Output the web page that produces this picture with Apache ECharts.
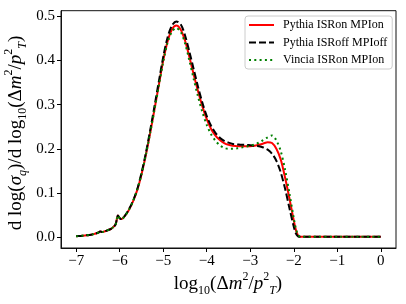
<!DOCTYPE html>
<html><head><meta charset="utf-8">
<script src="https://cdn.jsdelivr.net/npm/echarts@6/dist/echarts.min.js"></script>
<style>html,body{margin:0;padding:0;background:#fff}#c{width:406px;height:304px}</style>
</head><body><div id="c"></div>
<script>
const xs = [-7.0,-6.9,-6.8,-6.7,-6.6,-6.5,-6.45,-6.4,-6.3,-6.2,-6.1,-6.04,-6.0,-5.96,-5.9,-5.8,-5.7,-5.6,-5.5,-5.4,-5.3,-5.2,-5.1,-5.0,-4.9,-4.8,-4.7,-4.6,-4.5,-4.4,-4.3,-4.2,-4.1,-4.0,-3.9,-3.8,-3.7,-3.6,-3.5,-3.4,-3.3,-3.2,-3.1,-3.0,-2.9,-2.8,-2.7,-2.6,-2.5,-2.4,-2.3,-2.2,-2.1,-2.0,-1.95,-1.9,-1.85,-1.8,-1.5,-1.0,-0.5,0.0];
const lowPart = [0.002,0.003,0.004,0.005,0.007,0.010,0.013,0.012,0.015,0.019,0.028,0.049,0.043,0.041,0.046];
const redHigh = [0.060,0.080,0.106,0.142,0.186,0.236,0.290,0.345,0.400,0.443,0.470,0.479,0.470,0.445,0.408,0.368,0.330,0.296,0.267,0.245,0.230,0.220,0.213,0.209,0.207,0.206,0.206,0.206,0.206,0.207,0.209,0.212,0.215,0.213,0.200,0.176,0.135,0.088,0.038,0.016,0.004,0.001,0.001,0.001,0.001,0.001,0.001];
const blackHigh = [0.061,0.081,0.108,0.145,0.190,0.242,0.297,0.353,0.408,0.452,0.479,0.488,0.482,0.457,0.420,0.380,0.340,0.304,0.274,0.252,0.236,0.225,0.218,0.214,0.211,0.210,0.209,0.209,0.208,0.207,0.206,0.203,0.198,0.189,0.173,0.147,0.110,0.066,0.024,0.008,0.002,0.001,0.001,0.001,0.001,0.001,0.001];
const greenHigh = [0.060,0.080,0.106,0.142,0.186,0.236,0.289,0.343,0.397,0.440,0.465,0.473,0.465,0.439,0.400,0.358,0.318,0.283,0.254,0.233,0.218,0.208,0.202,0.200,0.200,0.201,0.203,0.205,0.207,0.210,0.214,0.220,0.226,0.230,0.219,0.195,0.153,0.100,0.043,0.019,0.005,0.001,0.001,0.001,0.001,0.001,0.001];
const seriesNames = ['Pythia ISRon MPIon','Pythia ISRoff MPIoff','Vincia ISRon MPIon'];
const xTicks = [-7,-6,-5,-4,-3,-2,-1,0];
const yTicks = [0,0.1,0.2,0.3,0.4,0.5];

const red = lowPart.concat(redHigh);
const black = lowPart.concat(blackHigh);
const green = lowPart.concat(greenHigh);
const pairs = arr => xs.map((x,i)=>[x,arr[i]]);
const FONT = 'Liberation Serif';
// matplotlib-style 5% margins
const xSpan = xTicks[xTicks.length-1]-xTicks[0];
const xMin = xTicks[0]-0.05*xSpan, xMax = xTicks[xTicks.length-1]+0.05*xSpan;
const yDataMax = Math.max(...red,...black,...green);
const yMin = -0.05*yDataMax, yMax = yDataMax*1.05;

const chart = echarts.init(document.getElementById('c'));
const fmtX = v => v < 0 ? '\u2212' + Math.abs(v) : String(v);
const rich = {
  n:{fontFamily:FONT,fontSize:19,lineHeight:26,color:'#000'},
  i:{fontFamily:FONT,fontSize:19,fontStyle:'italic',lineHeight:26,color:'#000'},
  sb:{fontFamily:FONT,fontSize:12,lineHeight:14,verticalAlign:'bottom',color:'#000'},
  sbi:{fontFamily:FONT,fontSize:12,fontStyle:'italic',lineHeight:14,verticalAlign:'bottom',color:'#000'},
  sp:{fontFamily:FONT,fontSize:12,lineHeight:15,verticalAlign:'top',color:'#000'}
};
chart.setOption({
  animation:false,
  backgroundColor:'#fff',
  grid:{left:61,right:10,top:10.7,bottom:56,show:true,borderColor:'#111',borderWidth:1,backgroundColor:'transparent'},
  xAxis:{type:'value',min:xMin,max:xMax,
     axisLine:{show:true,onZero:false,lineStyle:{color:'#111',width:1}},splitLine:{show:false},
     axisTick:{show:true,length:4,inside:false,customValues:xTicks,lineStyle:{color:'#000',width:1}},
     axisLabel:{customValues:xTicks,formatter:fmtX,fontFamily:FONT,fontSize:15,color:'#000',margin:6}},
  yAxis:{type:'value',min:yMin,max:yMax,
     axisLine:{show:true,onZero:false,lineStyle:{color:'#111',width:1}},splitLine:{show:false},
     axisTick:{show:true,length:4,inside:false,customValues:yTicks,lineStyle:{color:'#000',width:1}},
     axisLabel:{customValues:yTicks,formatter:v=>v.toFixed(1),fontFamily:FONT,fontSize:15,color:'#000',margin:6}},
  legend:{
    orient:'vertical',left:245,top:16,itemWidth:25,itemHeight:12,itemGap:5.5,
    padding:[3,5,3,3],backgroundColor:'rgba(255,255,255,0.8)',borderColor:'#ccc',borderWidth:1,borderRadius:3,
    itemStyle:{opacity:0,borderWidth:0},
    textStyle:{fontFamily:FONT,fontSize:12,color:'#000',padding:[0,0,0,4]},
    data:seriesNames
  },
  graphic:[
    {type:'text',x:16,y:133,rotation:Math.PI/2,style:{
      text:'{n|d log(}{i|σ}{sbi|q}{n|)/d log}{sb|10}{n|(Δ}{i|m}{sp|2}{n|/}{i|p}{sp|2}{sbi|T}{n|)}',
      rich:rich,align:'center',verticalAlign:'middle'}},
    {type:'text',x:228,y:284,style:{
      text:'{n|log}{sb|10}{n|(Δ}{i|m}{sp|2}{n|/}{i|p}{sp|2}{sbi|T}{n|)}',
      rich:rich,align:'center',verticalAlign:'middle'}}
  ],
  series:[
    {name:seriesNames[0],type:'line',data:pairs(red),smooth:0.3,symbol:'none',
     lineStyle:{color:'#ff0000',width:2},itemStyle:{color:'#ff0000'},z:2},
    {name:seriesNames[1],type:'line',data:pairs(black),smooth:0.3,symbol:'none',
     lineStyle:{color:'#000',width:2,type:[7,3]},itemStyle:{color:'#000'},z:3},
    {name:seriesNames[2],type:'line',data:pairs(green),smooth:0.3,symbol:'none',
     lineStyle:{color:'#008000',width:2,type:[2,3.3]},itemStyle:{color:'#008000'},z:4}
  ]
});
</script></body></html>
